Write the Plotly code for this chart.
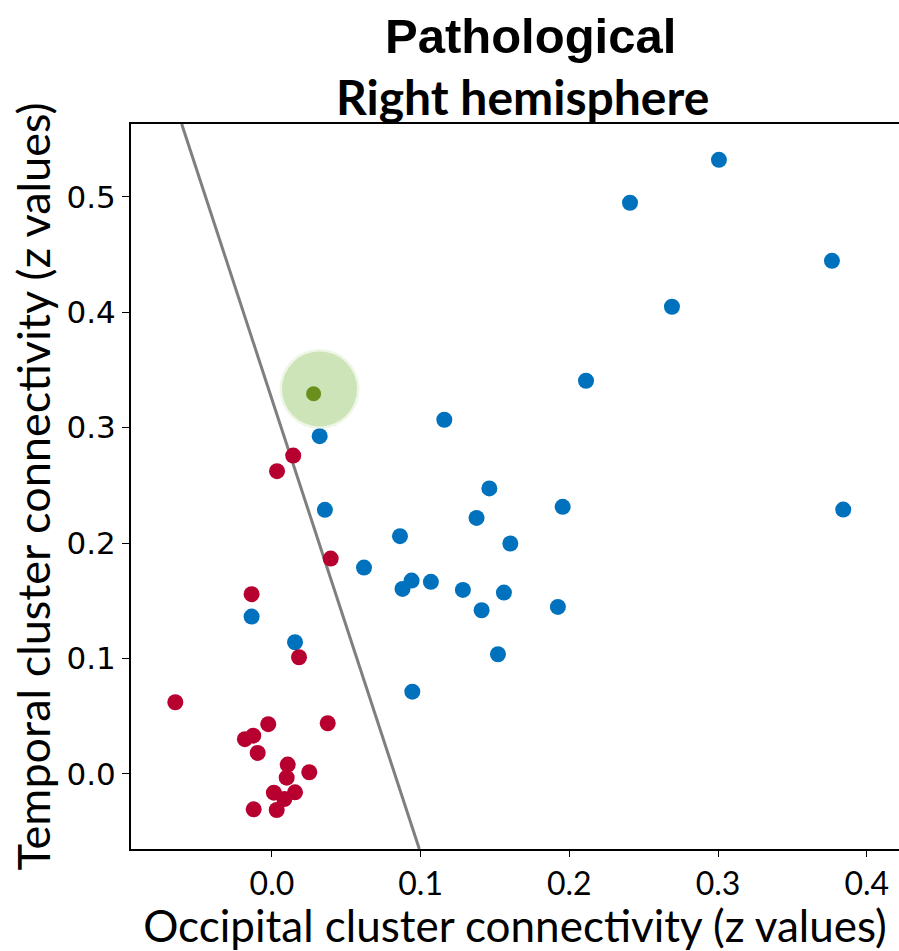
import plotly.graph_objects as go

# ---- data ----
blue_x = [0.3006, 0.2408, 0.3766, 0.2690, 0.2112, 0.1159, 0.1462, 0.1955, 0.3842,
          0.1376, 0.0861, 0.1603, 0.0619, 0.0939, 0.0878, 0.1069, 0.1284, 0.1560,
          0.1410, 0.1923, 0.1520, 0.0944, 0.0321, 0.0356, -0.0137, 0.0155]
blue_y = [0.5320, 0.4948, 0.4445, 0.4047, 0.3406, 0.3068, 0.2473, 0.2314, 0.2290,
          0.2218, 0.2060, 0.1996, 0.1788, 0.1675, 0.1603, 0.1664, 0.1594, 0.1571,
          0.1418, 0.1447, 0.1037, 0.0713, 0.2926, 0.2288, 0.1363, 0.1141]

red_x = [0.0143, 0.0034, 0.0395, -0.0137, 0.0182, -0.0650, -0.0025, 0.0375, -0.0126,
         -0.0182, -0.0096, 0.0106, 0.0251, 0.0099, 0.0013, 0.0155, 0.0083, -0.0123, 0.0032]
red_y = [0.2758, 0.2623, 0.1866, 0.1557, 0.1011, 0.0621, 0.0431, 0.0439, 0.0332,
         0.0301, 0.0182, 0.0081, 0.0015, -0.0032, -0.0162, -0.0159, -0.0217, -0.0306, -0.0312]

green_x = [0.0280]
green_y = [0.3293]
halo_x = [0.0320]
halo_y = [0.3335]

boundary_x = [-0.0607, 0.0991]
boundary_y = [0.563, -0.065]

x_ticks = [0.0, 0.1, 0.2, 0.3, 0.4]
x_tick_labels = ["0.0", "0.1", "0.2", "0.3", "0.4"]
y_ticks = [0.0, 0.1, 0.2, 0.3, 0.4, 0.5]
y_tick_labels = ["0.0", "0.1", "0.2", "0.3", "0.4", "0.5"]

x_range = [-0.0948, 0.4217]
y_range = [-0.065, 0.563]

title_main = "Pathological"
title_sub = "Right hemisphere"
x_title = "Occipital cluster connectivity (z values)"
y_title = "Temporal cluster connectivity (z values)"

# ---- figure ----
fig = go.Figure()

fig.add_trace(go.Scatter(x=boundary_x, y=boundary_y, mode="lines",
                         line=dict(color="#7f7f7f", width=3), hoverinfo="skip"))
fig.add_trace(go.Scatter(x=blue_x, y=blue_y, mode="markers",
                         marker=dict(color="#0072BD", size=16, line=dict(width=0))))
fig.add_trace(go.Scatter(x=red_x, y=red_y, mode="markers",
                         marker=dict(color="#B80030", size=16, line=dict(width=0))))
fig.add_trace(go.Scatter(x=halo_x, y=halo_y, mode="markers",
                         marker=dict(color="rgba(205,228,185,0.35)", size=80, line=dict(width=0)),
                         hoverinfo="skip"))
fig.add_trace(go.Scatter(x=halo_x, y=halo_y, mode="markers",
                         marker=dict(color="rgba(200,226,178,0.9)", size=75, line=dict(width=0)),
                         hoverinfo="skip"))
fig.add_trace(go.Scatter(x=green_x, y=green_y, mode="markers",
                         marker=dict(color="#6A8F1C", size=15, line=dict(width=0))))

fig.update_layout(
    width=899, height=951,
    margin=dict(l=131, r=0, t=124, b=102),
    paper_bgcolor="white", plot_bgcolor="white",
    showlegend=False,
    xaxis=dict(range=x_range, tickvals=x_ticks, ticktext=x_tick_labels,
               showgrid=False, zeroline=False, showline=True, mirror=True,
               linecolor="black", linewidth=2, ticks="outside", ticklen=6,
               tickcolor="black", tickfont=dict(family="Lato", size=32, color="black"),
               title=dict(text=x_title, font=dict(family="Lato", size=44, color="black"),
                          standoff=0)),
    yaxis=dict(range=y_range, tickvals=y_ticks, ticktext=y_tick_labels,
               showgrid=False, zeroline=False, showline=True, mirror=False,
               linecolor="black", linewidth=2, ticks="outside", ticklen=7,
               tickcolor="black", tickfont=dict(family="DejaVu Sans", size=31, color="black"),
               title=dict(text=y_title, font=dict(family="Lato", size=45, color="black"),
                          standoff=2)),
    annotations=[
        dict(text="<b>" + title_main + "</b>", xref="paper", yref="paper",
             x=(530 - 131) / 768, y=(849 - 36) / 725, xanchor="center", yanchor="middle",
             showarrow=False, font=dict(family="Liberation Sans", size=49, color="black")),
        dict(text="<b>" + title_sub + "</b>", xref="paper", yref="paper",
             x=(522 - 131) / 768, y=(849 - 96) / 725, xanchor="center", yanchor="middle",
             showarrow=False, font=dict(family="Lato", size=48, color="black")),
    ],
)

fig.write_html("out.html")
